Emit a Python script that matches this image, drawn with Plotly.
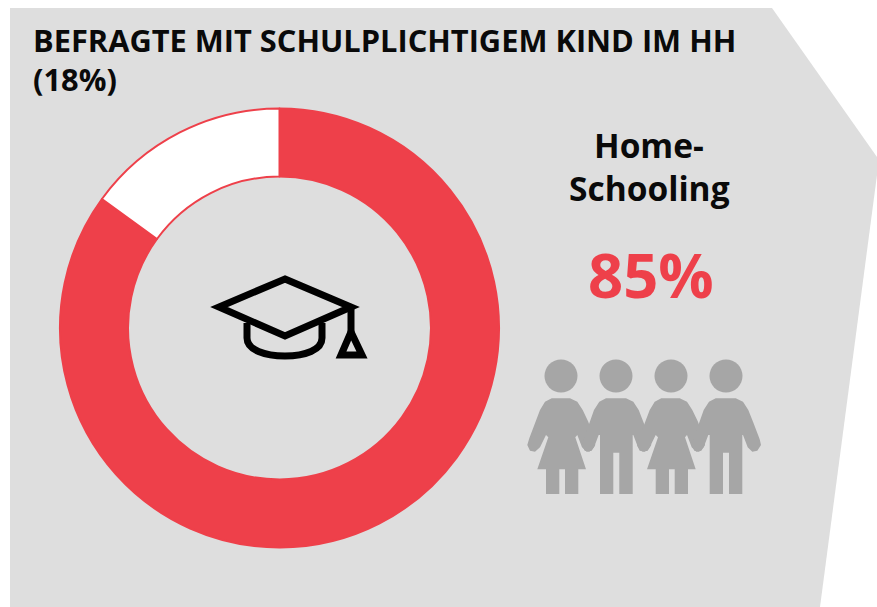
import plotly.graph_objects as go

W, H = 877, 607
slice_labels = ["Home-Schooling", "Kein Home-Schooling"]
slice_values = [85, 15]
slice_colors = ["#EE404A", "#FFFFFF"]
title_lines = ["BEFRAGTE MIT SCHULPLICHTIGEM KIND IM HH", "(18%)"]
side_lines = ["Home-", "Schooling"]
side_value = "85%"

BG = "#DEDEDE"; GREY = "#A6A6A6"; FONT = "Open Sans"; RED = "#EE404A"
panel = "M10,8 L772,8 L858,130 L877,157 L877,175 L820,607 L10,607 Z"

def zoomed(points, dx=0):
    return [((x + dx) / 3 + 520, y / 3 + 350) for x, y in points]

def poly(points):
    return "M" + " L".join(f"{x:.1f},{y:.1f}" for x, y in points) + " Z"

girl = [(95,145),(150,145),(172,155),(188,180),(205,215),(222,268),(226,285),(215,302),(200,305),(186,292),(172,255),
        (166,262),(198,358),(175,358),(175,432),(135,432),(135,358),(118,358),(118,432),(78,432),(78,358),(52,358),
        (85,262),(78,255),(60,292),(45,305),(30,302),(22,285),(28,265),(60,180),(75,155)]
boy = [(258,145),(318,145),(340,155),(356,180),(370,215),(390,268),(394,285),(383,302),(368,305),(354,292),(340,255),
       (338,255),(338,432),(298,432),(298,308),(280,308),(280,432),(240,432),(240,255),(236,255),(222,292),(208,305),
       (194,302),(186,285),(192,265),(222,180),(238,155)]

shapes = [dict(type="path", path=panel, xref="x", yref="y", fillcolor=BG, line_width=0, layer="below")]
for dx, fig_pts in [(0, girl), (0, boy), (329, girl), (329, boy)]:
    shapes.append(dict(type="path", path=poly(zoomed(fig_pts, dx)), xref="x", yref="y", fillcolor=GREY, line_width=0))
for cx in (561, 616, 671, 726):
    shapes.append(dict(type="circle", xref="x", yref="y", x0=cx-16.5, x1=cx+16.5, y0=359.5, y1=392.5, fillcolor=GREY, line_width=0))

cap_line = dict(color="#000000", width=7)
shapes += [
    dict(type="path", xref="x", yref="y", line=cap_line, path="M285,279 L351,307 L285,336 L219,307 Z"),
    dict(type="path", xref="x", yref="y", line=cap_line, path="M247,323 L247,338 C247,350 265,356 285,356 C305,356 322,350 322,338 L322,323"),
    dict(type="path", xref="x", yref="y", line=cap_line, path="M351,307 L351,332"),
    dict(type="path", xref="x", yref="y", line=cap_line, path="M351,332 L341,355 L362,355 Z"),
]

fig = go.Figure(go.Pie(
    labels=slice_labels, values=slice_values, hole=0.69, sort=False, direction="clockwise", rotation=0,
    marker=dict(colors=slice_colors, line=dict(width=2, color=RED)), textinfo="none", showlegend=False,
    domain=dict(x=[60/W, 499/W], y=[1-548/H, 1-108/H]),
))

def label(text, x, y, size, color="#0A0A0A", anchor="center", weight=700):
    return dict(text=text, x=x, y=y, xref="x", yref="y", showarrow=False, xanchor=anchor, yanchor="middle",
                font=dict(family=FONT, size=size, color=color, weight=weight))

annotations = [
    label(title_lines[0], 31, 39.5, 30.8, anchor="left"),
    label(title_lines[1], 31, 79, 30.8, anchor="left"),
    label(side_lines[0], 649, 145, 33.5),
    label(side_lines[1], 649, 188, 33.5),
    label(side_value, 651, 274, 61.5, color=RED),
]

fig.update_layout(
    width=W, height=H, margin=dict(l=0, r=0, t=0, b=0), paper_bgcolor="#FFFFFF", plot_bgcolor="rgba(0,0,0,0)",
    xaxis=dict(range=[0, W], visible=False, fixedrange=True),
    yaxis=dict(range=[H, 0], visible=False, fixedrange=True),
    shapes=shapes, annotations=annotations,
)
fig.write_html("out.html", config=dict(displayModeBar=False, responsive=False),
               post_script="document.body.style.margin='0';document.documentElement.style.overflow='hidden';")
